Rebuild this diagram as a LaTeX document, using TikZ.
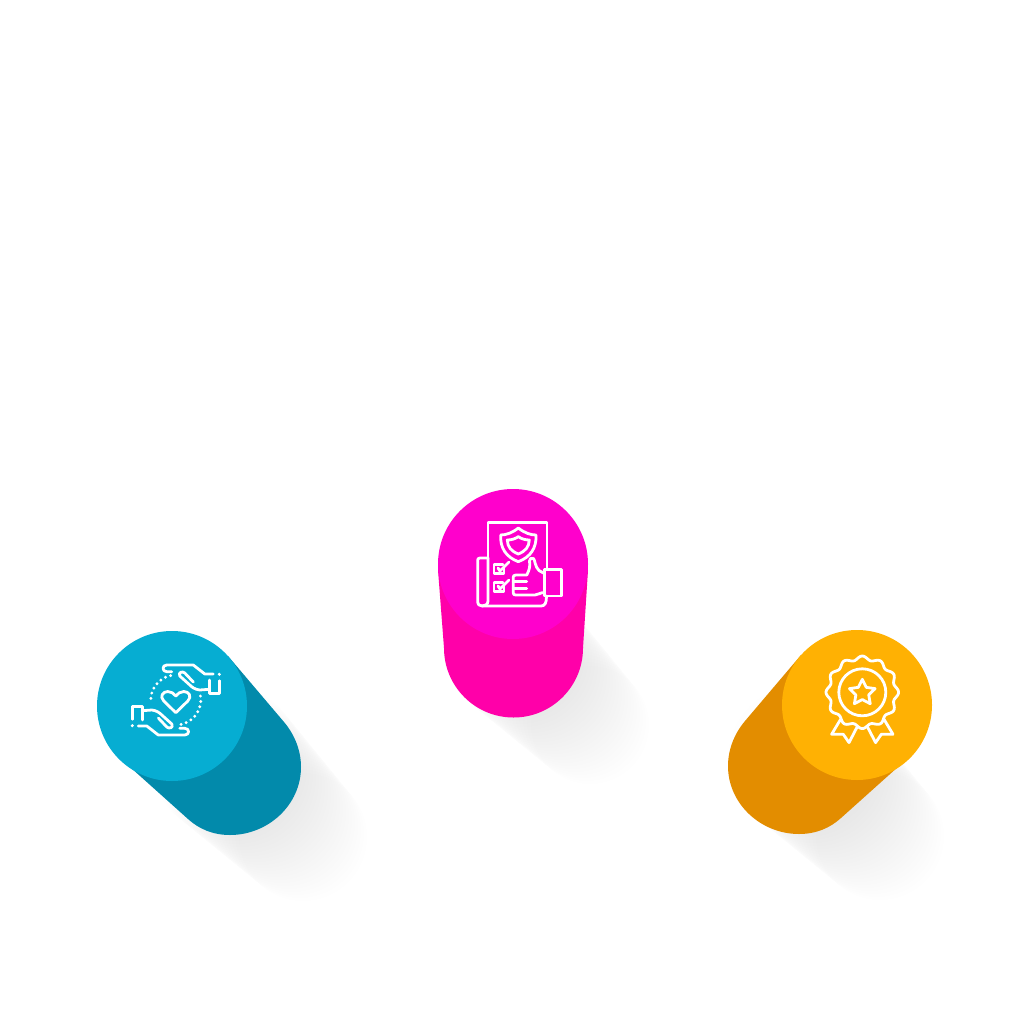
\documentclass[tikz,border=0pt]{standalone}
\usepackage{amsmath, amssymb}
\usetikzlibrary{arrows,shapes}

\definecolor{tealface}{HTML}{06ADD2}
\definecolor{tealbody}{HTML}{028AAB}
\definecolor{pinkface}{HTML}{FF00CC}
\definecolor{pinkbody}{HTML}{FF00A9}
\definecolor{amberface}{HTML}{FFB103}
\definecolor{amberbody}{HTML}{E38D00}

\begin{document}
\begin{tikzpicture}[x=1pt,y=-1pt]
		\tikzset{face/.style = {shape=circle,minimum size=150pt,inner sep=0pt,outer sep=0pt}}
		\tikzset{softshadow/.style = {fill=black,fill opacity=0.005}}
		\tikzset{icon/.style = {draw=white,line width=2.8pt,line cap=round,line join=round}}
		\tikzset{dots/.style = {draw=white,line width=3.2pt,line cap=round,dash pattern=on 0pt off 5.4pt}}

		\useasboundingbox (0,0) rectangle (1024,1024);
		\fill[white] (0,0) rectangle (1024,1024);

		% shadows
		\foreach \sx/\sy/\sr in {226/760/75,513/648/70,803/759/75}
			\foreach \i in {0,...,22}
				\fill[softshadow] ({\sx+\i*3.5},{\sy+\i*3.5}) circle[radius=\sr pt-\i*0.5pt];

		% bodies
		\node[face] (tealf) at (172,706) {};
		\node[face] (pinkf) at (513,564) {};
		\node[face] (amberf) at (857,705) {};
		\fill[tealbody] (228,656) -- (284,722) .. controls (295,735) and (301,751) .. (301,767) .. controls (301,805) and (268,835) .. (230,835) .. controls (213,835) and (199,829) .. (188,819) -- (130,767) -- cycle;
		\fill[amberbody] (801,655) -- (745,721) .. controls (734,734) and (728,750) .. (728,766) .. controls (728,804) and (761,834) .. (799,834) .. controls (816,834) and (830,828) .. (841,818) -- (899,766) -- cycle;
		\node[shape=circle,minimum size=139pt,inner sep=0pt,fill=pinkbody] (pinkb) at (513.5,648) {};
		\fill[pinkbody] (438,570) -- (444,648) -- (583,648) -- (588,570) -- cycle;

		% faces
		\node[face,fill=tealface] at (tealf) {};
		\node[face,fill=pinkface] at (pinkf) {};
		\node[face,fill=amberface] at (amberf) {};

		% hands and heart
		\begin{scope}[shift={(175.8,700)}]
			\draw[icon] (0,12.7) -- (-12,1) .. controls (-16.5,-3.5) and (-13,-8.5) .. (-8,-8.5) .. controls (-4.5,-8.5) and (-2,-6.5) .. (0,-4) .. controls (2,-6.5) and (4.5,-8.5) .. (8,-8.5) .. controls (13,-8.5) and (16.5,-3.5) .. (12,1) -- cycle;
			\draw[dots] (102:25pt) arc[start angle=102,end angle=185,radius=25pt];
			\draw[dots] (9:25pt) arc[start angle=9,end angle=-80,radius=25pt];
			\foreach \r in {0,180} {
				\begin{scope}[rotate=\r]
					\draw[icon] (-43.5,19.3) -- (-43.5,6.7) -- (-33.5,6.7) -- (-33.5,20);
					\draw[icon] (-33.5,10.7) -- (-24,10) .. controls (-19,10.5) and (-16,13) .. (-14,15) -- (-4,24) .. controls (-2,28) and (-7,29) .. (-9,27) -- (-17.5,18);
					\draw[icon] (-37.5,26) -- (-29,26) -- (-17.5,35) -- (9,35) .. controls (14,35) and (14,28.3) .. (9,28.3) -- (4,28.3);
					\fill[white] (-43.5,25.7) circle[radius=1.7pt];
				\end{scope}
			}
		\end{scope}

		% document and thumb
		\draw[icon] (488,558) -- (488,522.7) -- (547,522.7) -- (547,568);
		\draw[icon] (518.3,528) .. controls (512,533) and (506,535) .. (500.7,535) .. controls (500,548) and (506,557) .. (518.3,561.7) .. controls (530.6,557) and (536.6,548) .. (536,535) .. controls (530.6,535) and (524.6,533) .. (518.3,528) -- cycle;
		\draw[icon] (518.3,536.7) .. controls (515,539) and (511,540) .. (507.3,540) .. controls (507.5,547) and (511,551) .. (518.3,554) .. controls (525.6,551) and (529,547) .. (529.3,540) .. controls (525.6,540) and (521.6,539) .. (518.3,536.7) -- cycle;
		\draw[icon] (488,558) -- (480,558) .. controls (478.5,558) and (477.7,559) .. (477.7,560) -- (477.7,601) .. controls (477.7,604.5) and (479,606) .. (482,606) -- (541,606) .. controls (545,606) and (546.5,603) .. (546.5,596);
		\draw[icon] (488,558) -- (488,601) .. controls (488,604.5) and (485,606) .. (482,606);
		\draw[icon] (504,567) -- (504,573.3) -- (494,573.3) -- (494,564.3) -- (503,564.3);
		\draw[icon] (498,568) -- (500,571) -- (509,562);
		\draw[icon] (504,585) -- (504,591.7) -- (494,591.7) -- (494,582.7) -- (503,582.7);
		\draw[icon] (498,586) -- (500,589) -- (509,580);
		\draw[icon] (544.3,569.3) rectangle (561.7,596);
		\draw[icon] (544.3,573.5) -- (539,570.5) .. controls (535,567) and (535,560) .. (533.5,558.5) .. controls (531,557.5) and (529.5,559) .. (529.5,561) .. controls (530.5,566) and (529,571) .. (526.7,575) -- (516,575) .. controls (514,575) and (513.3,576) .. (513.3,577) -- (513.3,593) .. controls (513.3,594.5) and (514,595) .. (516,595) -- (535,595) .. controls (538,595) and (540,592.5) .. (544.3,592.5);
		\draw[icon] (513.3,581.8) -- (526.7,581.8);
		\draw[icon] (513.3,588.5) -- (526.7,588.5);

		% medal
		\begin{scope}[shift={(862.3,692.3)}]
			\draw[icon] plot[domain=0:360,samples=144,smooth] ({(34.4+1.9*cos(12*\x))*cos(\x)},{(34.4+1.9*cos(12*\x))*sin(\x)}) -- cycle;
			\node[shape=circle,draw=white,line width=2.8pt,minimum size=47pt,inner sep=0pt] (medalring) at (0,0) {};
			\node[shape=star,star points=5,star point ratio=2.0,draw=white,line width=2.8pt,line join=round,minimum size=27pt,inner sep=0pt] (medalstar) at (0,0.5) {};
			\draw[icon] (-21.7,27) -- (-30.7,42) -- (-19,42) -- (-13.3,50.3) -- (-5,34.3);
			\draw[icon] (21.7,27) -- (30.7,42) -- (19,42) -- (13.3,50.3) -- (5,34.3);
		\end{scope}
\end{tikzpicture}
\end{document}
